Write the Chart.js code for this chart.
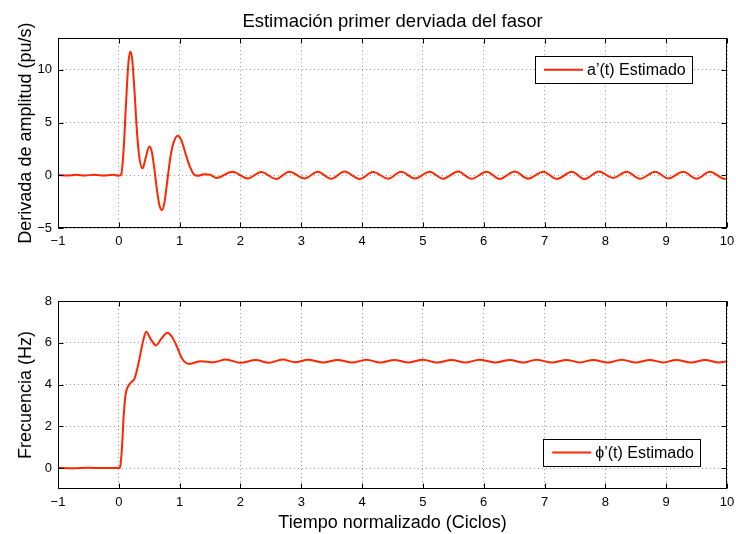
<!DOCTYPE html>
<html><head><meta charset="utf-8">
<script src="https://cdn.jsdelivr.net/npm/chart.js@4"></script>
<style>
html,body{margin:0;padding:0;background:#fff;}
#wrap{position:relative;width:736px;height:534px;}
canvas{position:absolute;left:0;top:0;}
</style></head><body>
<div id="wrap"><canvas id="c1" width="736" height="534"></canvas><canvas id="c2" width="736" height="534"></canvas></div>
<script>
// ---- data ----
const timeTop = [-1.00,-0.85,-0.70,-0.55,-0.40,-0.25,-0.10,0.00,0.04,0.08,0.12,0.16,0.19,0.22,0.26,0.30,0.34,0.39,0.44,0.50,0.54,0.58,0.63,0.67,0.71,0.75,0.80,0.85,0.90,0.97,1.03,1.10,1.17,1.24,1.30,1.40,1.50,1.60,1.87,2.12,2.34,2.59,2.80,3.06,3.27,3.49,3.71,3.96,4.18,4.43,4.64,4.87,5.11,5.33,5.58,5.80,6.05,6.26,6.51,6.73,6.98,7.20,7.45,7.66,7.89,8.13,8.35,8.57,8.82,9.03,9.28,9.50,9.72,9.97,10.00];
const ampDeriv = [0.02,-0.03,0.04,-0.02,0.05,-0.03,0.04,-0.05,0.10,2.5,7.0,10.8,11.75,11.0,7.8,4.0,1.6,0.66,1.6,2.72,2.3,0.8,-1.5,-2.9,-3.3,-2.6,-0.4,1.8,3.1,3.75,3.3,2.0,0.8,0.05,-0.05,0.1,0.05,-0.25,0.34,-0.30,0.30,-0.35,0.34,-0.30,0.34,-0.33,0.35,-0.35,0.32,-0.32,0.34,-0.30,0.34,-0.32,0.35,-0.33,0.34,-0.35,0.35,-0.32,0.34,-0.35,0.33,-0.36,0.35,-0.25,0.34,-0.33,0.34,-0.30,0.34,-0.33,0.34,-0.35,-0.30];
const timeBottom = [-1.00,-0.75,-0.50,-0.25,0.00,0.02,0.05,0.08,0.11,0.15,0.20,0.26,0.33,0.40,0.45,0.52,0.61,0.70,0.80,0.87,0.94,1.05,1.16,1.35,1.56,1.76,2.00,2.25,2.47,2.69,2.90,3.11,3.35,3.60,3.84,4.07,4.30,4.53,4.77,5.00,5.23,5.47,5.70,5.93,6.18,6.43,6.65,6.87,7.12,7.36,7.58,7.80,8.04,8.27,8.50,8.73,8.95,9.17,9.41,9.64,9.87,10.00];
const freqDeriv = [0.01,-0.01,0.02,0.0,0.0,0.05,0.9,2.5,3.5,3.9,4.1,4.3,5.1,6.1,6.53,6.2,5.87,6.2,6.48,6.3,5.92,5.2,4.99,5.12,5.07,5.2,5.04,5.17,5.04,5.2,5.07,5.19,5.06,5.18,5.05,5.19,5.05,5.18,5.06,5.19,5.05,5.18,5.05,5.19,5.06,5.18,5.05,5.19,5.05,5.18,5.06,5.18,5.05,5.19,5.05,5.18,5.06,5.18,5.05,5.18,5.06,5.12];
const xTicks = [-1,0,1,2,3,4,5,6,7,8,9,10];
const yTicksTop = [-5,0,5,10];
const yTicksBottom = [0,2,4,6,8];
const chartTitle = 'Estimación primer derviada del fasor';
const xLabel = 'Tiempo normalizado (Ciclos)';
const yLabelTop = 'Derivada de amplitud (pu/s)';
const yLabelBottom = 'Frecuencia (Hz)';
const seriesTop = 'a\u2019(t) Estimado';
const seriesBottom = '\u03D5\u2019(t) Estimado';

// ---- style ----
const FONT = '"Liberation Sans", Arial, Helvetica, sans-serif';
const LINE = 'rgb(255,38,0)';
const GRID = 'rgba(0,0,0,0.4)';
Chart.defaults.font.family = FONT;
Chart.defaults.color = '#000';

const fmt = v => String(v).replace('-', '\u2212');

function xScale(withTitle) {
  return {
    type: 'linear', min: -1, max: 10,
    afterBuildTicks: s => { s.ticks = xTicks.map(v => ({value: v})); },
    afterFit: s => { s.height = withTitle ? 45 : 34; s.paddingLeft = 0; s.paddingRight = 0; },
    ticks: {font: {size: 13}, padding: 6, maxRotation: 0, autoSkip: false, callback: fmt},
    grid: {color: GRID, lineWidth: 1, drawTicks: false},
    border: {display: false, dash: [1, 3]},
    title: withTitle ? {display: true, text: xLabel, font: {size: 18}, padding: {top: 0, bottom: 0}} : {display: false}
  };
}
function yScale(min, max, tickArr, label) {
  return {
    type: 'linear', min: min, max: max,
    afterBuildTicks: s => { s.ticks = tickArr.map(v => ({value: v})); },
    afterFit: s => { s.width = 58; s.paddingTop = 0; s.paddingBottom = 0; },
    ticks: {font: {size: 13}, padding: 6, callback: fmt},
    grid: {color: GRID, lineWidth: 1, drawTicks: false},
    border: {display: false, dash: [1, 3]},
    title: {display: true, text: label, font: {size: 18}, padding: {top: 15, bottom: 0}}
  };
}

const frame = {
  id: 'frame',
  afterDraw(chart) {
    const {ctx, chartArea: a, scales} = chart;
    ctx.save();
    ctx.strokeStyle = '#000'; ctx.lineWidth = 1;
    const L = Math.round(a.left) + 0.5, R = Math.round(a.right) - 0.5;
    const T = Math.round(a.top) + 0.5, B = Math.round(a.bottom) - 0.5;
    ctx.strokeRect(L, T, R - L, B - T);
    ctx.beginPath();
    scales.x.ticks.forEach(t => {
      const p = Math.round(scales.x.getPixelForValue(t.value)) + 0.5;
      ctx.moveTo(p, B); ctx.lineTo(p, B - 5);
      ctx.moveTo(p, T); ctx.lineTo(p, T + 5);
    });
    scales.y.ticks.forEach(t => {
      const p = Math.round(scales.y.getPixelForValue(t.value)) + 0.5;
      ctx.moveTo(L, p); ctx.lineTo(L + 5, p);
      ctx.moveTo(R, p); ctx.lineTo(R - 5, p);
    });
    ctx.stroke();
    ctx.restore();
  }
};

const innerLegend = {
  id: 'innerLegend',
  afterDraw(chart, args, opts) {
    const ds = chart.data.datasets[0];
    const a = chart.chartArea, ctx = chart.ctx;
    ctx.save();
    ctx.font = '16px ' + FONT;
    const tw = ctx.measureText(ds.label).width;
    const w = 9 + 39 + 4 + tw + 6, h = 26.5;
    const x = a.right - opts.right - w;
    const y = (opts.top !== undefined) ? a.top + opts.top : a.bottom - opts.bottom - h;
    ctx.fillStyle = '#fff';
    ctx.fillRect(x, y, w, h);
    ctx.strokeStyle = '#000'; ctx.lineWidth = 1;
    ctx.strokeRect(Math.round(x) + 0.5, Math.round(y) + 0.5, Math.round(w), Math.round(h));
    ctx.strokeStyle = ds.borderColor; ctx.lineWidth = 2;
    ctx.beginPath();
    ctx.moveTo(x + 9, y + h / 2); ctx.lineTo(x + 48, y + h / 2);
    ctx.stroke();
    ctx.fillStyle = '#000'; ctx.textBaseline = 'middle'; ctx.textAlign = 'left';
    ctx.fillText(ds.label, x + 52, y + h / 2 + 1);
    ctx.restore();
  }
};

function makeChart(id, xs, ys, label, yMin, yMax, yTicks, yLabel, isTop) {
  return new Chart(document.getElementById(id), {
    type: 'line',
    data: {datasets: [{
      label: label,
      data: xs.map((t, i) => ({x: t, y: ys[i]})),
      borderColor: LINE, borderWidth: 2, pointRadius: 0,
      cubicInterpolationMode: 'monotone', fill: false
    }]},
    options: {
      responsive: false, animation: false, devicePixelRatio: 1,
      layout: {padding: isTop ? {left: 0, right: 9, top: 0, bottom: 272} : {left: 0, right: 9, top: 301, bottom: 0}},
      scales: {x: xScale(!isTop), y: yScale(yMin, yMax, yTicks, yLabel)},
      plugins: {
        legend: {display: false},
        tooltip: {enabled: false},
        title: isTop ? {display: true, text: chartTitle, fullSize: false, font: {size: 18.5, weight: 'normal'}, color: '#000', padding: {top: 11, bottom: 5}} : {display: false},
        innerLegend: isTop ? {right: 35.3, top: 18.2} : {right: 27, bottom: 23.3}
      }
    },
    plugins: [frame, innerLegend]
  });
}

makeChart('c1', timeTop, ampDeriv, seriesTop, -5, 13, yTicksTop, yLabelTop, true);
makeChart('c2', timeBottom, freqDeriv, seriesBottom, -1, 8, yTicksBottom, yLabelBottom, false);
</script>
</body></html>
